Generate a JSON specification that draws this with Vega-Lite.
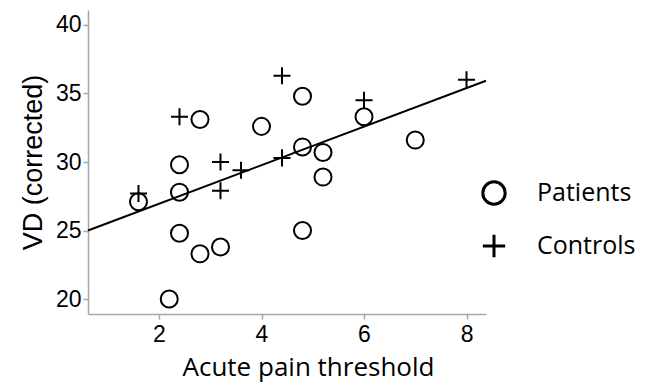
{
  "$schema": "https://vega.github.io/schema/vega-lite/v6.json",
  "width": 398,
  "height": 304,
  "autosize": "none",
  "padding": {"left": 88, "top": 10, "right": 169, "bottom": 75},
  "background": "white",
  "config": {
    "view": {"stroke": null},
    "axis": {
      "grid": false,
      "domainColor": "#a6a6a6",
      "domainWidth": 1.5,
      "tickColor": "#a6a6a6",
      "tickWidth": 1.5,
      "tickSize": 5,
      "labelColor": "black",
      "labelFont": "Liberation Sans",
      "labelFontSize": 23,
      "titleColor": "black",
      "titleFontWeight": "normal"
    }
  },
  "datasets": {
    "points": [
      {"group": "Patients", "x": 4.8, "y": 34.8},
      {"group": "Patients", "x": 2.8, "y": 33.1},
      {"group": "Patients", "x": 4.0, "y": 32.6},
      {"group": "Patients", "x": 4.8, "y": 31.1},
      {"group": "Patients", "x": 5.2, "y": 30.7},
      {"group": "Patients", "x": 5.2, "y": 28.9},
      {"group": "Patients", "x": 2.4, "y": 29.8},
      {"group": "Patients", "x": 2.4, "y": 27.8},
      {"group": "Patients", "x": 1.6, "y": 27.1},
      {"group": "Patients", "x": 2.4, "y": 24.8},
      {"group": "Patients", "x": 2.8, "y": 23.3},
      {"group": "Patients", "x": 3.2, "y": 23.8},
      {"group": "Patients", "x": 4.8, "y": 25.0},
      {"group": "Patients", "x": 2.2, "y": 20.0},
      {"group": "Patients", "x": 6.0, "y": 33.3},
      {"group": "Patients", "x": 7.0, "y": 31.6},
      {"group": "Controls", "x": 4.4, "y": 36.3},
      {"group": "Controls", "x": 2.4, "y": 33.3},
      {"group": "Controls", "x": 3.2, "y": 30.0},
      {"group": "Controls", "x": 3.6, "y": 29.4},
      {"group": "Controls", "x": 4.4, "y": 30.3},
      {"group": "Controls", "x": 1.6, "y": 27.7},
      {"group": "Controls", "x": 3.2, "y": 27.9},
      {"group": "Controls", "x": 6.0, "y": 34.5},
      {"group": "Controls", "x": 8.0, "y": 36.0}
    ],
    "fit": [
      {"x": 0.615, "y": 25.0},
      {"x": 8.38, "y": 35.93}
    ]
  },
  "layer": [
    {
      "data": {"name": "fit"},
      "mark": {"type": "line", "color": "black", "strokeWidth": 2},
      "encoding": {
        "x": {"field": "x", "type": "quantitative"},
        "y": {"field": "y", "type": "quantitative"}
      }
    },
    {
      "data": {"name": "points"},
      "mark": {"type": "point", "filled": false, "color": "black", "strokeWidth": 2, "opacity": 1, "size": 290},
      "encoding": {
        "x": {
          "field": "x", "type": "quantitative",
          "scale": {"domain": [0.615, 8.38], "nice": false, "zero": false},
          "axis": {"values": [2, 4, 6, 8], "title": "Acute pain threshold", "titleFont": "Open Sans", "titleFontSize": 26, "titlePadding": 8, "labelPadding": 4, "titleX": 220}
        },
        "y": {
          "field": "y", "type": "quantitative",
          "scale": {"domain": [18.91, 41.09], "nice": false, "zero": false},
          "axis": {"values": [20, 25, 30, 35, 40], "title": "VD (corrected)", "titleFont": "Liberation Sans", "titleFontSize": 27, "titlePadding": 8, "labelPadding": 2}
        },
        "shape": {
          "field": "group", "type": "nominal",
          "scale": {"domain": ["Patients", "Controls"], "range": ["circle", "M-1,0H1M0,-1V1"]},
          "legend": {
            "orient": "none",
            "legendX": 393,
            "legendY": 170,
            "title": null,
            "padding": 0,
            "labelFont": "Open Sans",
            "labelFontSize": 25,
            "labelColor": "black",
            "labelOffset": 30,
            "rowPadding": 17,
            "symbolSize": 500,
            "symbolStrokeWidth": 3,
            "symbolStrokeColor": "black",
            "symbolFillColor": "transparent"
          }
        }
      }
    }
  ]
}
